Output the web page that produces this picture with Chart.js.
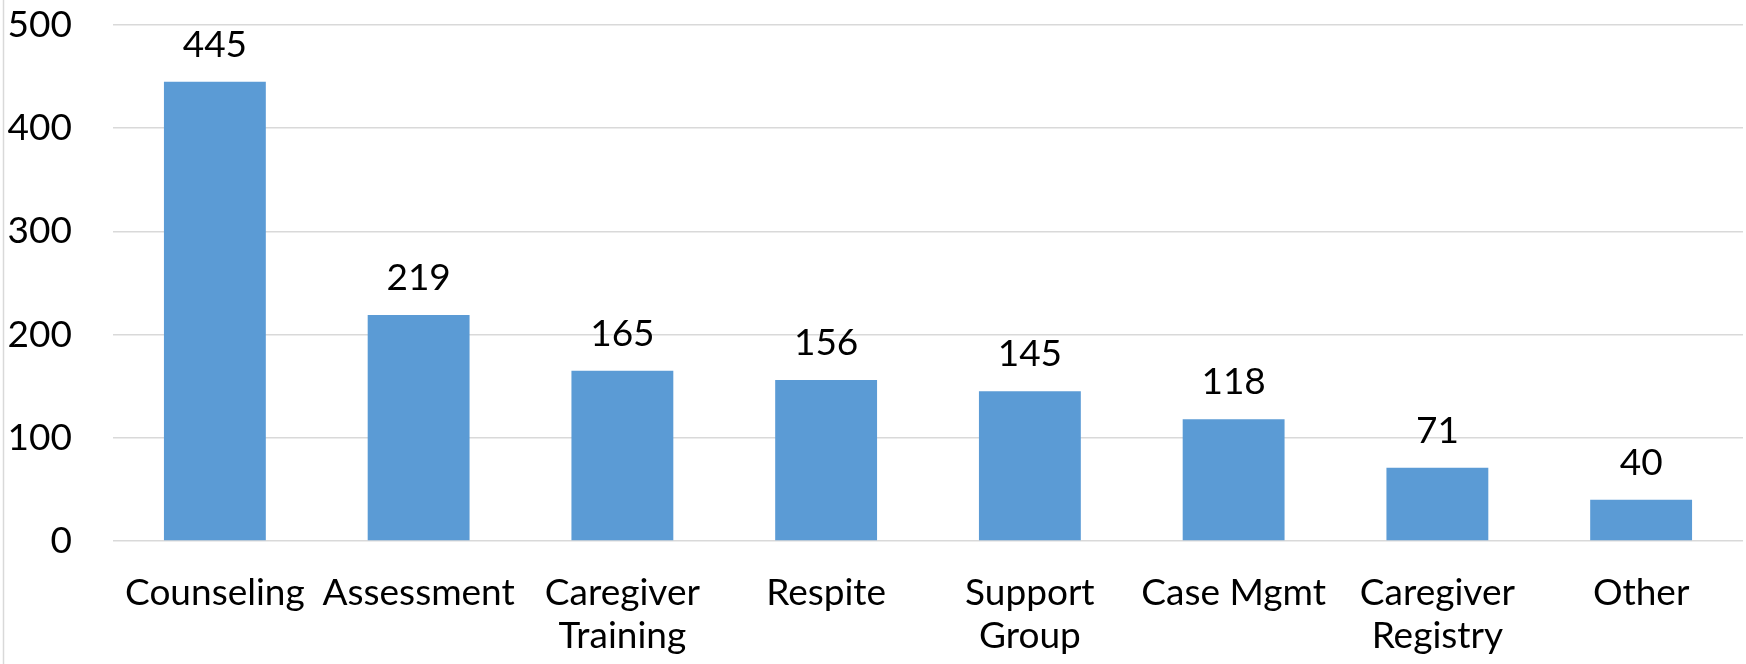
<!DOCTYPE html>
<html>
<head>
<meta charset="utf-8">
<script src="https://cdn.jsdelivr.net/npm/chart.js@4/dist/chart.umd.min.js"></script>
<style>
html,body{margin:0;padding:0;background:#fff;}
#wrap{position:relative;width:1746px;height:664px;}
</style>
</head>
<body>
<div id="wrap"><canvas id="c" width="1746" height="664"></canvas></div>
<script>
const categories = ["Counseling", "Assessment", ["Caregiver", "Training"], "Respite", ["Support", "Group"], "Case Mgmt", ["Caregiver", "Registry"], "Other"];
const values = [445, 219, 165, 156, 145, 118, 71, 40];
const yTicks = [0, 100, 200, 300, 400, 500];

const FONT = "Lato, 'Open Sans', sans-serif";
const FS = 37;

const valueLabels = {
  id: 'valueLabels',
  afterDatasetsDraw(chart) {
    const ctx = chart.ctx;
    const meta = chart.getDatasetMeta(0);
    ctx.save();
    ctx.font = FS + "px " + FONT;
    ctx.fillStyle = "#000";
    ctx.textAlign = "center";
    ctx.textBaseline = "alphabetic";
    meta.data.forEach((el, i) => {
      ctx.fillText(String(values[i]), el.x, el.y - 25);
    });
    ctx.restore();
  }
};
const leftBorder = {
  id: 'leftBorder',
  beforeDraw(chart) {
    const ctx = chart.ctx;
    ctx.save();
    ctx.strokeStyle = "#d9d9d9";
    ctx.lineWidth = 1.5;
    ctx.beginPath();
    ctx.moveTo(3.5, 0);
    ctx.lineTo(3.5, chart.height);
    ctx.stroke();
    ctx.restore();
  }
};

new Chart(document.getElementById('c'), {
  type: 'bar',
  data: {
    labels: categories,
    datasets: [{
      data: values,
      backgroundColor: '#5b9bd5',
      borderWidth: 0,
      categoryPercentage: 1.0,
      barPercentage: 0.5
    }]
  },
  options: {
    responsive: false,
    animation: false,
    events: [],
    layout: { padding: { top: 25, right: 3, left: 0, bottom: 0 } },
    plugins: { legend: { display: false }, tooltip: { enabled: false } },
    scales: {
      x: {
        grid: { display: false, drawTicks: false },
        border: { display: false },
        ticks: {
          color: '#000',
          font: { family: FONT, size: FS, lineHeight: 1.17 },
          maxRotation: 0, minRotation: 0, autoSkip: false,
          padding: 30
        },
        afterFit(scale) { scale.height = 664 - 541; scale.paddingLeft = 0; scale.paddingRight = 0; }
      },
      y: {
        min: 0, max: 500,
        afterBuildTicks(scale) { scale.ticks = yTicks.map(v => ({ value: v })); },
        grid: { color: '#d9d9d9', lineWidth: 1.5, drawTicks: false },
        border: { display: false },
        ticks: {
          color: '#000',
          font: { family: FONT, size: FS },
          padding: 41
        },
        afterFit(scale) { scale.width = 113; scale.paddingTop = 0; scale.paddingBottom = 0; }
      }
    }
  },
  plugins: [valueLabels, leftBorder]
});
</script>
</body>
</html>
